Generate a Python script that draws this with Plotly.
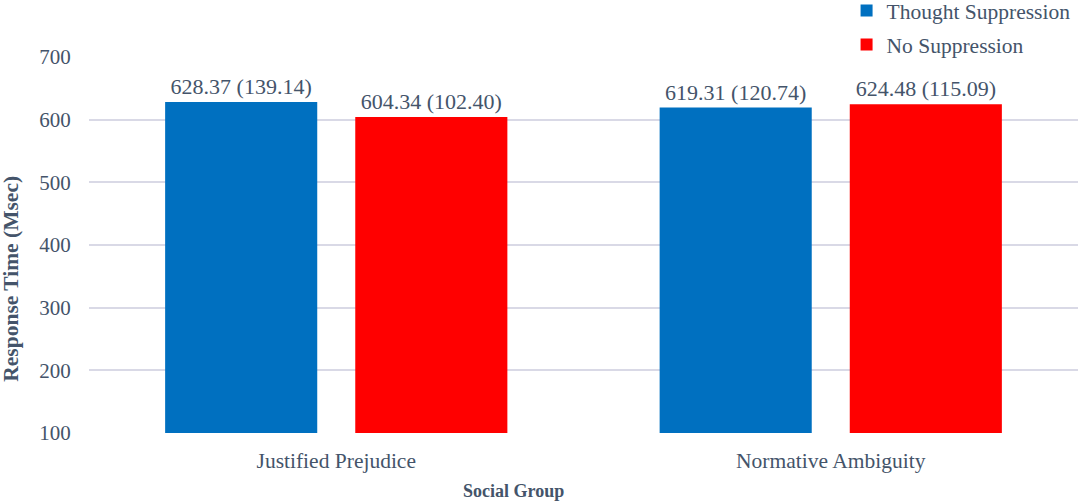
import plotly.graph_objects as go

categories = ["Justified Prejudice", "Normative Ambiguity"]
series_names = ["Thought Suppression", "No Suppression"]
means_thought = [628.37, 619.31]
sds_thought = [139.14, 120.74]
means_none = [604.34, 624.48]
sds_none = [102.40, 115.09]
colors = ["#0070C0", "#FF0000"]
y_ticks = [100, 200, 300, 400, 500, 600, 700]

FONT = "Liberation Serif, Times New Roman, serif"
TXT = "#44546A"

fig = go.Figure()
for name, means, sds, col, grp in [
    (series_names[0], means_thought, sds_thought, colors[0], "a"),
    (series_names[1], means_none, sds_none, colors[1], "b"),
]:
    fig.add_trace(go.Bar(
        name=name, x=categories, y=means, marker_color=col,
        marker_line_width=0, legendgroup=grp,
        text=[f"{m:.2f} ({s:.2f})" for m, s in zip(means, sds)],
        textposition="outside", cliponaxis=False,
        textfont=dict(family=FONT, size=22, color=TXT),
    ))

fig.update_layout(
    width=1081, height=504,
    margin=dict(l=89, r=3, t=57, b=71, autoexpand=False),
    paper_bgcolor="white", plot_bgcolor="white",
    barmode="group", bargap=0.231, bargroupgap=0.2,
    font=dict(family=FONT, size=21, color=TXT),
    showlegend=True,
    legend=dict(x=0.766, xanchor="left", y=1.178, yanchor="top",
                font=dict(family=FONT, size=21.5, color=TXT),
                tracegroupgap=3, bgcolor="rgba(0,0,0,0)"),
    annotations=[
        dict(text="<b>Social Group</b>", xref="paper", yref="paper",
             x=(513 - 89) / 989, y=-0.154, xanchor="center", yanchor="middle",
             showarrow=False, font=dict(family=FONT, size=18, color=TXT)),
        dict(text="<b>Response Time (Msec)</b>", xref="paper", yref="paper",
             x=-0.079, y=0.41, xanchor="center", yanchor="middle",
             textangle=-90, showarrow=False,
             font=dict(family=FONT, size=21.5, color=TXT)),
    ],
)
fig.update_xaxes(
    showline=False, showgrid=False, ticks="outside", ticklen=8,
    tickcolor="rgba(0,0,0,0)",
    tickfont=dict(family=FONT, size=21.5, color=TXT),
)
fig.update_yaxes(
    range=[100, 700], tickvals=y_ticks,
    showgrid=True, gridcolor="#D9D9E6", gridwidth=2,
    zeroline=False, showline=False,
    ticks="outside", ticklen=13, tickcolor="rgba(0,0,0,0)",
    tickfont=dict(family=FONT, size=21, color=TXT),
)
fig.write_html("out.html")
